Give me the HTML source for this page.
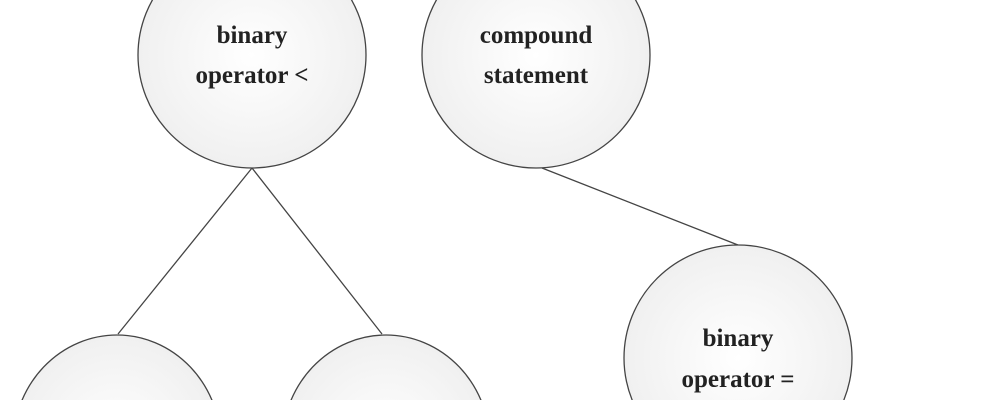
<!DOCTYPE html>
<html><head><style>html,body{margin:0;padding:0;background:#fff;width:1000px;height:400px;overflow:hidden;}svg{display:block;}</style></head>
<body>
<svg width="1000" height="400" viewBox="0 0 1000 400" xmlns="http://www.w3.org/2000/svg">
<defs><radialGradient id="g" cx="0.5" cy="0.5" r="0.6"><stop offset="0" stop-color="#ffffff"/><stop offset="1" stop-color="#ededed"/></radialGradient></defs>
<g stroke="#444" stroke-width="1.3">
<line x1="252" y1="168" x2="118" y2="334"/>
<line x1="252" y1="168" x2="382" y2="334"/>
<line x1="542" y1="168" x2="738" y2="245"/>
</g>
<g fill="url(#g)" stroke="#444" stroke-width="1.3">
<ellipse cx="252" cy="55" rx="114" ry="113"/>
<ellipse cx="536" cy="55" rx="114" ry="113"/>
<ellipse cx="738" cy="358" rx="114" ry="113"/>
<ellipse cx="117" cy="445" rx="104" ry="110"/>
<ellipse cx="386" cy="445" rx="104" ry="110"/>
</g>
<g font-family="Liberation Serif, serif" font-weight="bold" font-size="25" fill="#222" text-anchor="middle">
<text x="252" y="43">binary</text>
<text x="252" y="83">operator &lt;</text>
<text x="536" y="43">compound</text>
<text x="536" y="83">statement</text>
<text x="738" y="346">binary</text>
<text x="738" y="387">operator =</text>
</g>
</svg>
</body></html>
